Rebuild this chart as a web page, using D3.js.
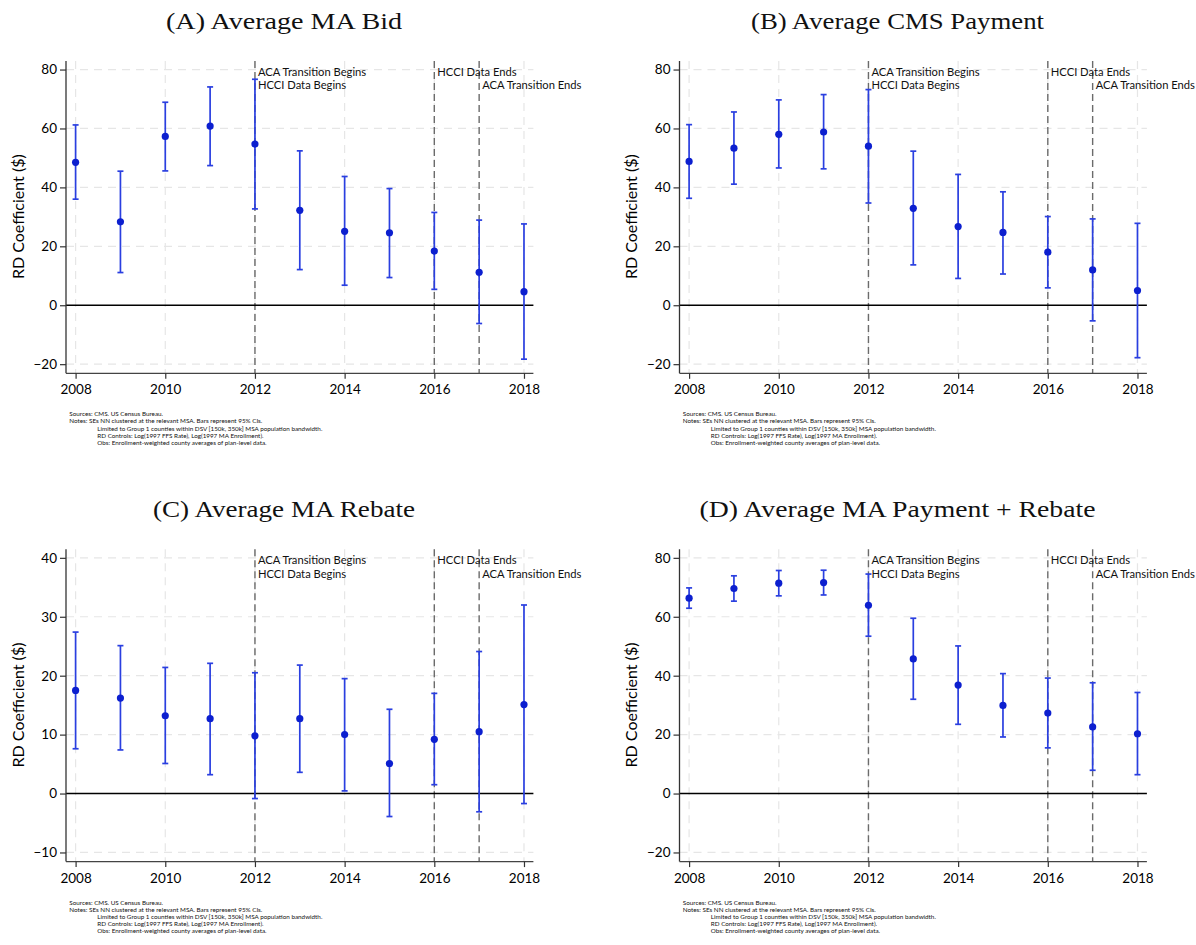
<!DOCTYPE html>
<html>
<head>
<meta charset="utf-8">
<script src="https://cdn.jsdelivr.net/npm/d3@7"></script>
<style>
  html, body { margin: 0; padding: 0; background: #ffffff; }
  svg { display: block; }
</style>
</head>
<body>
<svg id="chart" width="1196" height="945"></svg>
<script>
// ---- data: RD coefficients by year with 95% CI bounds ----
const years = [2008, 2009, 2010, 2011, 2012, 2013, 2014, 2015, 2016, 2017, 2018];

const bidCoef  = [48.5, 28.3, 57.3, 60.8, 54.7, 32.2, 25.1, 24.6, 18.4, 11.2, 4.6];
const bidLower = [36.0, 11.1, 45.6, 47.4, 32.7, 12.1, 6.8, 9.4, 5.4, -6.2, -18.3];
const bidUpper = [61.2, 45.5, 68.9, 74.1, 76.7, 52.4, 43.7, 39.6, 31.5, 28.9, 27.6];

const paymentCoef  = [48.8, 53.3, 58.0, 58.8, 54.0, 32.9, 26.7, 24.7, 18.0, 12.0, 5.0];
const paymentLower = [36.3, 41.1, 46.6, 46.3, 34.7, 13.7, 9.1, 10.6, 5.9, -5.3, -17.8];
const paymentUpper = [61.3, 65.6, 69.7, 71.5, 73.2, 52.3, 44.4, 38.5, 30.1, 29.3, 27.8];

const rebateCoef  = [17.5, 16.2, 13.2, 12.7, 9.8, 12.7, 10.0, 5.1, 9.2, 10.5, 15.1];
const rebateLower = [7.6, 7.4, 5.1, 3.2, -0.85, 3.6, 0.45, -3.9, 1.5, -3.1, -1.7];
const rebateUpper = [27.4, 25.1, 21.4, 22.1, 20.5, 21.8, 19.5, 14.3, 17.0, 24.1, 32.0];

const totalCoef  = [66.3, 69.6, 71.4, 71.6, 63.9, 45.7, 36.8, 29.9, 27.3, 22.6, 20.3];
const totalLower = [62.9, 65.3, 67.1, 67.4, 53.4, 32.0, 23.5, 19.2, 15.5, 7.9, 6.4];
const totalUpper = [69.8, 73.9, 75.7, 75.8, 74.5, 59.5, 50.1, 40.7, 39.2, 37.6, 34.3];

// ---- axis ticks and labels ----
const yearTicks = [2008, 2010, 2012, 2014, 2016, 2018];
const dollarTicksWide = [-20, 0, 20, 40, 60, 80];
const dollarTicksNarrow = [-10, 0, 10, 20, 30, 40];

const panelTitles = [
  "(A) Average MA Bid",
  "(B) Average CMS Payment",
  "(C) Average MA Rebate",
  "(D) Average MA Payment + Rebate"
];
const yAxisTitle = "RD Coefficient ($)";

// policy event markers
const eventYears = [2012, 2016, 2017];
const eventLabelYears = [2012, 2012, 2016, 2017];
const eventLabelRows  = [0, 1, 0, 1];
const eventLabelTexts = ["ACA Transition Begins", "HCCI Data Begins", "HCCI Data Ends", "ACA Transition Ends"];

const noteLines = [
  "Sources: CMS. US Census Bureau.",
  "Notes: SEs NN clustered at the relevant MSA. Bars represent 95% CIs.",
  "Limited to Group 1 counties within DSV [150k, 350k] MSA population bandwidth.",
  "RD Controls: Log(1997 FFS Rate), Log(1997 MA Enrollment).",
  "Obs: Enrollment-weighted county averages of plan-level data."
];
const noteIndent = [false, false, true, true, true];

// ---- layout ----
const svg = d3.select("#chart");
const SANS = "Lato, 'Open Sans', sans-serif";
const SERIF = "'Liberation Serif', 'DejaVu Serif', serif";

const plotLeft = 66, plotRight = 533.4, plotTop = 61, plotBottom = 373.3;
const barColor = "#2a3fe0";
const dotColor = "#0c1fcf";

const panels = [
  { ox: 0,     oy: 0,     title: panelTitles[0], titleW: 236, coef: bidCoef,     lo: bidLower,     hi: bidUpper,     ticks: dollarTicksWide,   dom: [-23.1, 82.9] },
  { ox: 613.5, oy: 0,     title: panelTitles[1], titleW: 293, coef: paymentCoef, lo: paymentLower, hi: paymentUpper, ticks: dollarTicksWide,   dom: [-23.1, 82.9] },
  { ox: 0,     oy: 488.3, title: panelTitles[2], titleW: 262, coef: rebateCoef,  lo: rebateLower,  hi: rebateUpper,  ticks: dollarTicksNarrow, dom: [-11.55, 41.45] },
  { ox: 613.5, oy: 488.3, title: panelTitles[3], titleW: 396, coef: totalCoef,   lo: totalLower,   hi: totalUpper,   ticks: dollarTicksWide,   dom: [-23.1, 82.9] }
];

const x = d3.scaleLinear().domain([2007.786, 2018.21]).range([plotLeft, plotRight]);

panels.forEach(p => {
  const g = svg.append("g").attr("transform", `translate(${p.ox},${p.oy})`);
  const y = d3.scaleLinear().domain(p.dom).range([plotBottom, plotTop]);

  // title
  g.append("text")
    .attr("x", 284).attr("y", 29)
    .attr("text-anchor", "middle")
    .attr("font-family", SERIF)
    .attr("font-size", 23.5)
    .attr("fill", "#111")
    .attr("textLength", p.titleW)
    .attr("lengthAdjust", "spacingAndGlyphs")
    .text(p.title);

  // light grid: horizontal at value ticks, vertical at year ticks
  g.append("g").selectAll("line").data(p.ticks.filter(t => t !== 0)).join("line")
    .attr("x1", plotLeft).attr("x2", plotRight)
    .attr("y1", d => y(d)).attr("y2", d => y(d))
    .attr("stroke", "#e6e6e6").attr("stroke-width", 1.2)
    .attr("stroke-dasharray", "8,6");
  g.append("g").selectAll("line").data(yearTicks).join("line")
    .attr("x1", d => x(d)).attr("x2", d => x(d))
    .attr("y1", plotTop).attr("y2", plotBottom)
    .attr("stroke", "#e6e6e6").attr("stroke-width", 1.2)
    .attr("stroke-dasharray", "8,6");

  // event lines
  g.append("g").selectAll("line").data(eventYears).join("line")
    .attr("x1", d => x(d)).attr("x2", d => x(d))
    .attr("y1", plotTop).attr("y2", plotBottom)
    .attr("stroke", "#6b6b6b").attr("stroke-width", 1.4)
    .attr("stroke-dasharray", "7,4");

  // zero reference line
  g.append("line")
    .attr("x1", plotLeft).attr("x2", plotRight)
    .attr("y1", y(0)).attr("y2", y(0))
    .attr("stroke", "#000").attr("stroke-width", 1.4);

  // axes
  const yAxis = d3.axisLeft(y).tickValues(p.ticks).tickSize(6).tickPadding(3).tickFormat(d3.format("d"));
  const yg = g.append("g").attr("transform", `translate(${plotLeft},0)`).call(yAxis);
  yg.select(".domain").attr("d", `M0,${plotTop}V${plotBottom}`).attr("stroke", "#333").attr("stroke-width", 1.3);
  yg.selectAll(".tick line").attr("stroke", "#333").attr("stroke-width", 1.2);
  yg.selectAll(".tick text").attr("font-family", SANS).attr("font-size", 13.5).attr("fill", "#000");

  const xAxis = d3.axisBottom(x).tickValues(yearTicks).tickSize(5.5).tickPadding(6).tickFormat(d3.format("d"));
  const xg = g.append("g").attr("transform", `translate(0,${plotBottom})`).call(xAxis);
  xg.select(".domain").attr("d", `M${plotLeft},0H${plotRight}`).attr("stroke", "#444").attr("stroke-width", 1.3);
  xg.selectAll(".tick line").attr("stroke", "#333").attr("stroke-width", 1.2);
  xg.selectAll(".tick text").attr("font-family", SANS).attr("font-size", 13.5).attr("fill", "#000");

  // y-axis title
  g.append("text")
    .attr("transform", `translate(23.5,216.7) rotate(-90)`)
    .attr("text-anchor", "middle")
    .attr("font-family", SANS).attr("font-size", 16)
    .attr("fill", "#000")
    .text(yAxisTitle);

  // event annotations
  eventLabelTexts.forEach((t, i) => {
    g.append("text")
      .attr("x", x(eventLabelYears[i]) + 3)
      .attr("y", 75.7 + eventLabelRows[i] * 13.6)
      .attr("font-family", SANS).attr("font-size", 11.2)
      .attr("fill", "#111")
      .text(t);
  });

  // confidence interval bars
  const rows = years.map((yr, i) => ({ yr, c: p.coef[i], lo: p.lo[i], hi: p.hi[i] }));
  const ci = g.append("g");
  ci.selectAll("line.stem").data(rows).join("line").attr("class", "stem")
    .attr("x1", d => x(d.yr)).attr("x2", d => x(d.yr))
    .attr("y1", d => y(d.lo)).attr("y2", d => y(d.hi))
    .attr("stroke", barColor).attr("stroke-width", 1.7);
  ci.selectAll("line.capHi").data(rows).join("line").attr("class", "capHi")
    .attr("x1", d => x(d.yr) - 3).attr("x2", d => x(d.yr) + 3)
    .attr("y1", d => y(d.hi)).attr("y2", d => y(d.hi))
    .attr("stroke", barColor).attr("stroke-width", 1.7);
  ci.selectAll("line.capLo").data(rows).join("line").attr("class", "capLo")
    .attr("x1", d => x(d.yr) - 3).attr("x2", d => x(d.yr) + 3)
    .attr("y1", d => y(d.lo)).attr("y2", d => y(d.lo))
    .attr("stroke", barColor).attr("stroke-width", 1.7);
  ci.selectAll("circle").data(rows).join("circle")
    .attr("cx", d => x(d.yr)).attr("cy", d => y(d.c))
    .attr("r", 3.6).attr("fill", dotColor);

  // source notes
  noteLines.forEach((t, i) => {
    g.append("text")
      .attr("x", noteIndent[i] ? 97.3 : 69.3)
      .attr("y", 416.3 + i * 7.1)
      .attr("font-family", SANS).attr("font-size", 6.3)
      .attr("fill", "#111")
      .text(t);
  });
});
</script>
</body>
</html>
